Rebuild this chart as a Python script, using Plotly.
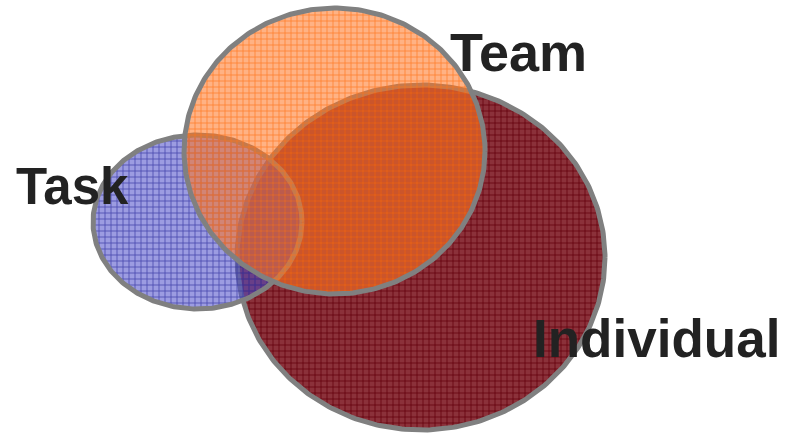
import numpy as np
import plotly.graph_objects as go

# Venn sets (drawn bottom -> top)
sets = ["Individual", "Task", "Team"]
center_x = [421, 197.5, 334.5]
center_y = [257.5, 222, 151]
radius_x = [184, 104.5, 150.5]
radius_y = [172.5, 87, 143]

# label positions
label_text = ["Individual", "Task", "Team"]
label_x = [656, 72, 518]
label_y = [338, 186, 52]
label_size = [53, 51, 54]

bg_colors = ["rgba(135,42,52,0.97)", "rgba(75,75,200,0.55)", "rgba(255,115,30,0.55)"]
fg_colors = ["rgba(100,0,12,1)", "rgba(50,50,160,0.8)", "rgba(255,115,25,0.8)"]

fig = go.Figure()
t = np.linspace(0, 2 * np.pi, 361)
for name, cx, cy, rx, ry, bg, fg in zip(sets, center_x, center_y, radius_x, radius_y, bg_colors, fg_colors):
    fig.add_trace(go.Scatter(
        x=cx + rx * np.cos(t), y=cy + ry * np.sin(t),
        mode="lines", fill="toself", name=name,
        fillcolor=bg,
        fillpattern=dict(shape="+", size=6, solidity=0.25, fgcolor=fg, bgcolor=bg, fillmode="replace"),
        line=dict(color="#808080", width=5),
        hoverinfo="skip", showlegend=False,
    ))

for txt, x, y, s in zip(label_text, label_x, label_y, label_size):
    fig.add_annotation(x=x, y=y, text=f"<b>{txt}</b>", showarrow=False,
                       xanchor="center", yanchor="middle",
                       font=dict(family="Liberation Sans, Arial", size=s, color="#222222"))

fig.update_layout(
    width=785, height=434, margin=dict(l=0, r=0, t=0, b=0),
    paper_bgcolor="white", plot_bgcolor="white",
    xaxis=dict(range=[0, 785], visible=False, fixedrange=True),
    yaxis=dict(range=[434, 0], visible=False, fixedrange=True),
)
fig.write_html("out.html", config={"displayModeBar": False},
               post_script="document.body.style.margin='0';document.body.style.overflow='hidden';")
